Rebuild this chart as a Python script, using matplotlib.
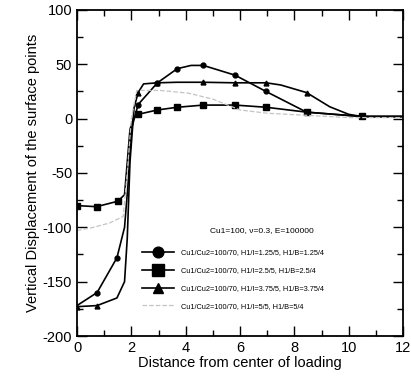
import matplotlib
matplotlib.use("Agg")
import matplotlib.pyplot as plt
from matplotlib.ticker import MultipleLocator

plt.rcParams['font.family'] = ['Liberation Sans', 'DejaVu Sans']
plt.rcParams['axes.unicode_minus'] = False

# Series 1 (circles): Cu1/Cu2=100/70, H1/I=1.25/5
x1 = [0, 0.74, 1.47, 1.75, 1.88, 2.0, 2.25, 2.96, 3.69, 4.2, 4.65, 5.82, 6.96, 8.45, 10.48, 12]
y1 = [-172, -160, -128, -100, -60, -10, 13, 33, 46, 49, 49, 40, 25, 6, 2, 2]
m1 = [1, 2, 6, 7, 8, 10, 11, 12, 13, 14]

# Series 2 (squares): H1/I=2.5/5
x2 = [0, 0.72, 1.5, 1.75, 1.85, 1.95, 2.1, 2.25, 2.96, 3.69, 4.65, 5.82, 6.96, 8.45, 10.48, 12]
y2 = [-80, -81, -76, -70, -40, -10, 2, 4, 8, 10.5, 12.5, 12.5, 10.5, 6, 2, 2]
m2 = [0, 1, 2, 7, 8, 9, 10, 11, 12, 13, 14]

# Series 3 (triangles): H1/I=3.75/5
x3 = [0, 0.74, 1.47, 1.75, 1.85, 1.95, 2.1, 2.25, 2.45, 2.96, 3.69, 4.65, 5.82, 6.96, 7.5, 8.45, 9.3, 10.0, 10.48, 12]
y3 = [-173, -172, -165, -150, -110, -40, 10, 24, 32, 33, 33.5, 33.5, 33, 33, 31, 24, 11, 4, 2, 2]
m3 = [0, 1, 7, 9, 11, 12, 13, 15, 18]

# Series 4 (thin dashed): H1/I=5/5
x4 = [0, 0.6, 1.2, 1.7, 1.85, 2.0, 2.2, 3.05, 4.1, 5.0, 6.0, 7.0, 8.5, 10, 12]
y4 = [-103, -100, -96, -90, -50, 0, 26, 26, 23.5, 18, 8, 5, 3, 1, 1]

labels = [
    "Cu1/Cu2=100/70, H1/I=1.25/5, H1/B=1.25/4",
    "Cu1/Cu2=100/70, H1/I=2.5/5, H1/B=2.5/4",
    "Cu1/Cu2=100/70, H1/I=3.75/5, H1/B=3.75/4",
    "Cu1/Cu2=100/70, H1/I=5/5, H1/B=5/4",
]
header = "Cu1=100, \u03bd=0.3, E=100000"

fig = plt.figure(figsize=(4.11, 3.87), dpi=100)
ax = fig.add_axes([77/411, 1 - 336/387, (403-77)/411, (336-10)/387])

ax.plot(x1, y1, '-', color='black', lw=1.2, marker='o', ms=3.5, markevery=m1, label=labels[0])
ax.plot(x2, y2, '-', color='black', lw=1.2, marker='s', ms=4, markevery=m2, label=labels[1])
ax.plot(x3, y3, '-', color='black', lw=1.2, marker='^', ms=3.5, markevery=m3, label=labels[2])
ax.plot(x4, y4, '--', color='#c4c4c4', lw=0.9, label=labels[3])

ax.set_xlim(0, 12)
ax.set_ylim(-200, 100)
ax.xaxis.set_major_locator(MultipleLocator(2))
ax.xaxis.set_minor_locator(MultipleLocator(1))
ax.yaxis.set_major_locator(MultipleLocator(50))
ax.yaxis.set_minor_locator(MultipleLocator(25))
ax.tick_params(which='both', direction='in', top=True, right=True, labelsize=10.5, width=1)
ax.tick_params(which='major', length=7)
ax.tick_params(which='minor', length=4)
for s in ax.spines.values():
    s.set_linewidth(1.3)

ax.set_xlabel("Distance from center of loading", fontsize=10.5, labelpad=1)
ax.set_ylabel("Vertical Displacement of the surface points", fontsize=10.5, labelpad=2)

ax.text(0.567, 0.325, header, transform=ax.transAxes, fontsize=6, ha='center', va='center')
leg = ax.legend(loc='upper left', bbox_to_anchor=(0.19, 0.275), frameon=False,
                fontsize=5.3, handlelength=4.3, handletextpad=1.0, labelspacing=1.45,
                borderaxespad=0, markerscale=2.2)

fig.savefig("out.png", dpi=100)
